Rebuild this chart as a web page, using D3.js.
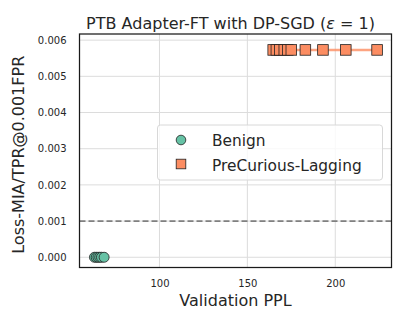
<!DOCTYPE html>
<html><head><meta charset="utf-8">
<script src="https://cdn.jsdelivr.net/npm/d3@7"></script>
<style>body{margin:0;background:#fff}svg{display:block}text{font-family:"DejaVu Sans",sans-serif;fill:#262626}</style>
</head><body><svg id="c" width="407" height="326"></svg>
<script>
const benignX = [63, 64, 65, 66, 67, 68.5];
const benignY = [0, 0, 0, 0, 0, 0];
const preX = [164.7, 166.5, 168.5, 171, 173, 175, 183, 193, 206, 223.8];
const preY = [0.00573, 0.00573, 0.00573, 0.00573, 0.00573, 0.00573, 0.00573, 0.00573, 0.00573, 0.00573];
const xTicks = [100, 150, 200];
const yTicks = [0, 0.001, 0.002, 0.003, 0.004, 0.005, 0.006];
const refLine = 0.001;
const seriesNames = ["Benign", "PreCurious-Lagging"];
const colors = ["#66c2a5", "#fc8d62"];

const svg = d3.select("#c");
const L = 79.5, R = 391.5, T = 34, B = 267.5;
const x = d3.scaleLinear().domain([54.5, 232]).range([L, R]);
const y = d3.scaleLinear().domain([-0.000283, 0.00617]).range([B, T]);

// grid
svg.append("g").selectAll("line").data(xTicks).join("line")
  .attr("x1", d => x(d)).attr("x2", d => x(d)).attr("y1", T).attr("y2", B)
  .attr("stroke", "#dcdcdc").attr("stroke-width", 1);
svg.append("g").selectAll("line").data(yTicks).join("line")
  .attr("x1", L).attr("x2", R).attr("y1", d => y(d)).attr("y2", d => y(d))
  .attr("stroke", "#dcdcdc").attr("stroke-width", 1);

// ref line
svg.append("line").attr("x1", L).attr("x2", R).attr("y1", y(refLine)).attr("y2", y(refLine))
  .attr("stroke", "#808080").attr("stroke-width", 1.6).attr("stroke-dasharray", "6,3");

// axes labels
const xa = d3.axisBottom(x).tickValues(xTicks).tickSize(0).tickPadding(12).tickFormat(d3.format("d"));
const gx = svg.append("g").attr("transform", `translate(0,${B})`).call(xa);
gx.select(".domain").remove();
gx.selectAll("text").attr("font-size", 10).style("fill", "#262626").attr("font-family", "DejaVu Sans");
const ya = d3.axisLeft(y).tickValues(yTicks).tickSize(0).tickPadding(13).tickFormat(d3.format(".3f"));
const gy = svg.append("g").attr("transform", `translate(${L},0)`).call(ya);
gy.select(".domain").remove();
gy.selectAll("text").attr("font-size", 10).style("fill", "#262626").attr("font-family", "DejaVu Sans");

// lines
const line = d3.line().x(d => x(d[0])).y(d => y(d[1]));
svg.append("path").datum(benignX.map((v, i) => [v, benignY[i]])).attr("d", line)
  .attr("fill", "none").attr("stroke", colors[0]).attr("stroke-width", 2).attr("opacity", 0.8);
svg.append("path").datum(preX.map((v, i) => [v, preY[i]])).attr("d", line)
  .attr("fill", "none").attr("stroke", colors[1]).attr("stroke-width", 2.5).attr("opacity", 0.8);

// markers
svg.append("g").selectAll("circle").data(benignX).join("circle")
  .attr("cx", d => x(d)).attr("cy", (d, i) => y(benignY[i])).attr("r", 5)
  .attr("fill", colors[0]).attr("stroke", "#222").attr("stroke-width", 0.8);
svg.append("g").selectAll("rect").data(preX).join("rect")
  .attr("x", d => x(d) - 5.3).attr("y", (d, i) => y(preY[i]) - 5.3).attr("width", 10.6).attr("height", 10.6)
  .attr("fill", colors[1]).attr("stroke", "#222").attr("stroke-width", 0.8);

// frame
svg.append("rect").attr("x", L).attr("y", T).attr("width", R - L).attr("height", B - T)
  .attr("fill", "none").attr("stroke", "#1a1a1a").attr("stroke-width", 1.25);

// legend
const lg = svg.append("g");
lg.append("rect").attr("x", 157.5).attr("y", 125).attr("width", 225).attr("height", 55).attr("rx", 3)
  .attr("fill", "#fff").attr("fill-opacity", 0.8).attr("stroke", "#d8d8d8");
lg.append("circle").attr("cx", 181).attr("cy", 140).attr("r", 4.8).attr("fill", colors[0]).attr("stroke", "#222").attr("stroke-width", 0.8);
lg.append("rect").attr("x", 176.2).attr("y", 159.2).attr("width", 9.6).attr("height", 9.6).attr("fill", colors[1]).attr("stroke", "#222").attr("stroke-width", 0.8);
lg.selectAll("text.l").data(seriesNames).join("text").attr("class", "l")
  .attr("x", 212).attr("y", (d, i) => 146 + i * 24.5).attr("font-size", 15.4).text(d => d);

// title and labels
const title = svg.append("text").attr("x", (L + R) / 2 - 5).attr("y", 29).attr("text-anchor", "middle").attr("font-size", 16);
title.append("tspan").text("PTB Adapter-FT with DP-SGD (");
title.append("tspan").attr("font-style", "italic").text("ε");
title.append("tspan").text(" = 1)");
svg.append("text").attr("x", (L + R) / 2).attr("y", 306).attr("text-anchor", "middle").attr("font-size", 16)
  .text("Validation PPL");
svg.append("text").attr("transform", `translate(24,${(T + B) / 2 + 4}) rotate(-90)`).attr("text-anchor", "middle").attr("font-size", 16)
  .text("Loss-MIA/TPR@0.001FPR");
</script></body></html>
